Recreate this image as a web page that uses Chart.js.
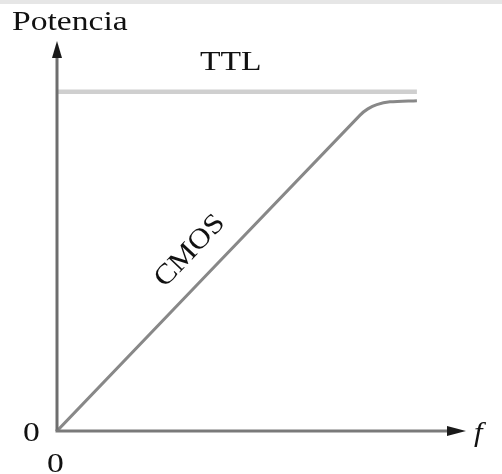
<!DOCTYPE html>
<html>
<head>
<meta charset="utf-8">
<script src="https://cdn.jsdelivr.net/npm/chart.js@4"></script>
<style>
html,body{margin:0;padding:0;background:#fff;}
canvas{display:block;}
</style>
</head>
<body>
<canvas id="c" width="502" height="474"></canvas>
<script>
// Data (arbitrary units, 0..100 on both axes)
const ttlX = [0, 88];
const ttlY = [87, 87];
const cmosX = [0, 74.1, 76.0, 78.2, 81.4, 88.0];
const cmosY = [0, 81.0, 82.6, 83.7, 84.4, 84.7];
const labels = { yTitle: 'Potencia', xTitle: 'f', ttl: 'TTL', cmos: 'CMOS', zero: '0' };

const toPts = (xs, ys) => xs.map((x, i) => ({ x, y: ys[i] }));

const FONT = '"Liberation Serif", "Times New Roman", serif';

function drawText(ctx, txt, x, y, size, opts = {}) {
  ctx.save();
  ctx.translate(x, y);
  if (opts.rot) ctx.rotate(opts.rot);
  ctx.scale(opts.sx || 1.2, 1);
  ctx.font = (opts.italic ? 'italic ' : '') + size + 'px ' + FONT;
  ctx.fillStyle = opts.color || '#111';
  ctx.textAlign = opts.align || 'left';
  ctx.textBaseline = opts.baseline || 'alphabetic';
  ctx.fillText(txt, 0, 0);
  ctx.restore();
}

const decor = {
  id: 'decor',
  beforeDraw(chart) {
    const ctx = chart.ctx;
    ctx.save();
    ctx.fillStyle = '#e6e6e6';
    ctx.fillRect(0, 0, chart.width, 4);
    ctx.restore();
  },
  afterDatasetsDraw(chart) {
    const ctx = chart.ctx;
    const xs = chart.scales.x, ys = chart.scales.y;
    const x0 = xs.getPixelForValue(0), y0 = ys.getPixelForValue(0);
    const xEnd = xs.getPixelForValue(100), yEnd = ys.getPixelForValue(100);
    ctx.save();
    // axes
    ctx.lineWidth = 3;
    ctx.strokeStyle = '#6e6e6e';
    ctx.beginPath();
    ctx.moveTo(x0, y0); ctx.lineTo(x0, yEnd + 14);
    ctx.stroke();
    ctx.strokeStyle = '#7a7a7a';
    ctx.beginPath();
    ctx.moveTo(x0 - 1.5, y0); ctx.lineTo(xEnd - 16, y0);
    ctx.stroke();
    // arrowheads
    ctx.fillStyle = '#1a1a1a';
    ctx.beginPath();
    ctx.moveTo(x0, yEnd);
    ctx.lineTo(x0 - 5, yEnd + 17);
    ctx.lineTo(x0 + 5, yEnd + 17);
    ctx.closePath(); ctx.fill();
    ctx.beginPath();
    ctx.moveTo(xEnd, y0);
    ctx.lineTo(xEnd - 19, y0 - 5);
    ctx.lineTo(xEnd - 19, y0 + 5);
    ctx.closePath(); ctx.fill();
    ctx.restore();

    // texts
    drawText(ctx, labels.yTitle, 12, 30, 28);
    drawText(ctx, labels.ttl, 200, 70, 28);
    drawText(ctx, labels.zero, 23, 441, 28);
    drawText(ctx, labels.zero, 47, 472, 28);
    drawText(ctx, labels.xTitle, 474, 441, 28, { italic: true, sx: 1.1 });
    drawText(ctx, labels.cmos, 190, 251, 28, { rot: -46.5 * Math.PI / 180, align: 'center', baseline: 'middle', sx: 1.12 });
  }
};

new Chart(document.getElementById('c'), {
  type: 'scatter',
  data: {
    datasets: [
      { data: toPts(ttlX, ttlY), showLine: true, borderColor: '#cfcfcf', borderWidth: 4.5, pointRadius: 0, tension: 0 },
      { data: toPts(cmosX, cmosY), showLine: true, borderColor: '#888888', borderWidth: 3, pointRadius: 0, tension: 0.3, borderJoinStyle: 'round' }
    ]
  },
  options: {
    responsive: false,
    animation: false,
    events: [],
    layout: { padding: { left: 57, right: 36, top: 41, bottom: 43 } },
    plugins: { legend: { display: false }, tooltip: { enabled: false } },
    scales: {
      x: { type: 'linear', min: 0, max: 100, display: false },
      y: { type: 'linear', min: 0, max: 100, display: false }
    }
  },
  plugins: [decor]
});
</script>
</body>
</html>
